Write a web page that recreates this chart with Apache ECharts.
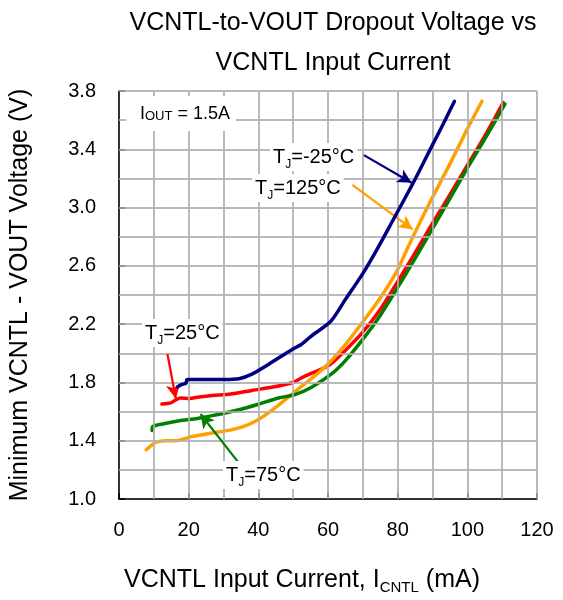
<!DOCTYPE html>
<html>
<head>
<meta charset="utf-8">
<script src="https://cdn.jsdelivr.net/npm/echarts@6/dist/echarts.min.js"></script>
<style>
html,body{margin:0;padding:0;background:#fff;}
#chart{width:563px;height:600px;}
</style>
</head>
<body>
<div id="chart"></div>
<script>
// ---- data ----
const xTicks = [0, 20, 40, 60, 80, 100, 120];
const yTicks = [1.0, 1.4, 1.8, 2.2, 2.6, 3.0, 3.4, 3.8];

// [VCNTL input current (mA), minimum VCNTL - VOUT voltage (V)]
const tjMinus25 = [[16.8,1.77],[18.0,1.785],[19.2,1.795],[19.6,1.82],[25,1.82],[30,1.82],[34.4,1.825],[38,1.855],[43,1.925],[49.6,2.025],[52.3,2.06],[55.3,2.12],[60.8,2.22],[65,2.37],[69.8,2.54],[74,2.71],[78.8,2.92],[83.8,3.14],[86.4,3.26],[90,3.43],[93,3.57],[96.3,3.73]];
const tj25 = [[12.3,1.652],[14.9,1.66],[16.3,1.68],[17.7,1.693],[20.1,1.69],[23,1.70],[26.8,1.71],[32,1.72],[38.2,1.745],[45.8,1.775],[50,1.80],[52.3,1.83],[55,1.86],[58.9,1.90],[61,1.93],[65,2.02],[69.8,2.14],[75,2.30],[79.7,2.48],[84,2.65],[89.2,2.86],[94,3.05],[100,3.29],[105,3.49],[110.3,3.72]];
const tj75 = [[9.5,1.47],[9.7,1.497],[12.5,1.515],[17.3,1.537],[22.5,1.553],[26.8,1.572],[35.3,1.618],[40,1.65],[45.8,1.693],[50.5,1.716],[55.3,1.767],[61,1.858],[65,1.95],[69.8,2.09],[75,2.26],[79.7,2.44],[84,2.61],[88.4,2.79],[94,3.02],[100,3.27],[105,3.47],[110.8,3.71]];
const tj125 = [[7.8,1.338],[9.2,1.366],[10.6,1.39],[13.5,1.40],[16.3,1.40],[21.1,1.43],[26.8,1.453],[32.5,1.476],[37.2,1.51],[41,1.56],[45.8,1.645],[51.5,1.755],[57.2,1.865],[61,1.95],[65,2.06],[69.8,2.21],[75,2.38],[79.7,2.56],[83,2.73],[86.4,2.90],[90,3.07],[95,3.30],[100,3.54],[104.2,3.73]];

const tempLabels = ['-25', '25', '75', '125'];

// annotation arrows: [from, to] in data coordinates
const arrowMinus25 = [[70.3,3.36],[84.0,3.17]];
const arrow125 = [[67.0,3.155],[84.3,2.85]];
const arrow25 = [[13.9,1.995],[16.3,1.69]];
const arrow75 = [[34.1,1.256],[23.4,1.583]];

// ---- chart ----
const FONT = '"Liberation Sans", Arial, Helvetica, sans-serif';
const GRIDC = '#b4b4b4';
const chart = echarts.init(document.getElementById('chart'));

// grid lines at every half tick step (10 mA / 0.2 V), placed through the axis scales
const xStep = (xTicks[1] - xTicks[0]) / 2;
const yStep = (yTicks[1] - yTicks[0]) / 2;
const gridMarks = [];
for (let i = 1; i <= (xTicks[xTicks.length - 1] - xTicks[0]) / xStep + 1e-9; i++) {
  gridMarks.push({xAxis: +(xTicks[0] + i * xStep).toFixed(3)});
}
for (let i = 1; i <= (yTicks[yTicks.length - 1] - yTicks[0]) / yStep + 1e-9; i++) {
  gridMarks.push({yAxis: +(yTicks[0] + i * yStep).toFixed(3)});
}

function arrowMark(pts, color) {
  return {
    silent: true,
    symbol: ['none', 'arrow'],
    symbolSize: [11, 14],
    label: {show: false},
    lineStyle: {color: color, width: 2.2, type: 'solid'},
    data: [[{coord: pts[0]}, {coord: pts[1]}]]
  };
}

function lineSeries(temp, data, color, arrow, z) {
  return {
    name: 'TJ=' + temp + '°C',
    type: 'line',
    data: data,
    showSymbol: false,
    smooth: 0.25,
    z: z,
    lineStyle: {color: color, width: 3.5, cap: 'round', join: 'round'},
    itemStyle: {color: color},
    markLine: arrowMark(arrow, color)
  };
}

function tjText(temp, x, y) {
  return {
    type: 'text',
    x: x, y: y, z: 100,
    style: {
      text: '{t|T}{s|J}{t|=' + temp + '°C}',
      verticalAlign: 'middle',
      align: 'left',
      backgroundColor: '#fff',
      padding: [0, 3, 0, 3],
      rich: {
        t: {fontSize: 20, fontFamily: FONT, fill: '#000', lineHeight: 28},
        s: {fontSize: 12, fontFamily: FONT, fill: '#000', lineHeight: 12, verticalAlign: 'bottom'}
      }
    }
  };
}

const option = {
  backgroundColor: '#fff',
  animation: false,
  title: {
    text: 'VCNTL-to-VOUT Dropout Voltage vs\nVCNTL Input Current',
    left: 328,
    top: -2,
    textAlign: 'center',
    textStyle: {fontFamily: FONT, fontSize: 25, fontWeight: 'normal', color: '#000', lineHeight: 40}
  },
  grid: {left: 116, right: 26, top: 91, bottom: 100},
  xAxis: {
    type: 'value',
    min: xTicks[0],
    max: xTicks[xTicks.length - 1],
    interval: 20,
    name: '{n|VCNTL Input Current, I}{s|CNTL}{n| (mA)}',
    nameLocation: 'middle',
    nameGap: 66,
    nameTextStyle: {
      padding: [0, 52, 0, 0],
      rich: {
        n: {fontFamily: FONT, fontSize: 25, color: '#000', lineHeight: 30},
        s: {fontFamily: FONT, fontSize: 15, color: '#000', lineHeight: 14, verticalAlign: 'bottom'}
      }
    },
    axisLine: {show: true, onZero: false, lineStyle: {color: '#000', width: 1.5}},
    axisTick: {show: true, inside: true, length: 6, lineStyle: {color: '#000', width: 1.5}},
    axisLabel: {margin: 21, fontFamily: FONT, fontSize: 20, color: '#000',
      formatter: v => String(v)},
    splitLine: {show: true, lineStyle: {color: GRIDC, width: 1.5}},
    minorTick: {show: false, splitNumber: 2},
    minorSplitLine: {show: true, lineStyle: {color: GRIDC, width: 1.5}}
  },
  yAxis: {
    type: 'value',
    min: yTicks[0],
    max: yTicks[yTicks.length - 1],
    interval: 0.4,
    name: 'Minimum VCNTL - VOUT Voltage (V)',
    nameLocation: 'middle',
    nameGap: 86,
    nameTextStyle: {fontFamily: FONT, fontSize: 25, color: '#000'},
    axisLine: {show: true, onZero: false, lineStyle: {color: '#000', width: 1.5}},
    axisTick: {show: true, inside: true, length: 6, lineStyle: {color: '#000', width: 1.5}},
    axisLabel: {margin: 23, fontFamily: FONT, fontSize: 20, color: '#000',
      formatter: v => v.toFixed(1)},
    splitLine: {show: true, lineStyle: {color: GRIDC, width: 1.5}},
    minorTick: {show: false, splitNumber: 2},
    minorSplitLine: {show: true, lineStyle: {color: GRIDC, width: 1.5}}
  },
  series: [
    {
      name: 'grid',
      type: 'line',
      data: [[xTicks[0], yTicks[0]]],
      showSymbol: false,
      silent: true,
      z: 1,
      lineStyle: {opacity: 0},
      markLine: {
        silent: true,
        symbol: ['none', 'none'],
        label: {show: false},
        lineStyle: {color: GRIDC, width: 1.5, type: 'solid'},
        data: gridMarks
      }
    },
    lineSeries(tempLabels[0], tjMinus25, '#000080', arrowMinus25, 5),
    lineSeries(tempLabels[1], tj25, '#ff0000', arrow25, 2),
    lineSeries(tempLabels[3], tj125, '#ffa000', arrow125, 3),
    lineSeries(tempLabels[2], tj75, '#008000', arrow75, 4)
  ],
  graphic: [
    {
      type: 'rect', z: 99,
      shape: {x: 126, y: 96, width: 110, height: 35},
      style: {fill: '#fff'}
    },
    {
      type: 'text', x: 140, y: 113, z: 100,
      style: {
        text: '{a|I}{b|OUT}{a| = 1.5A}',
        verticalAlign: 'middle',
        rich: {
          a: {fontSize: 18, fontFamily: FONT, fill: '#000', lineHeight: 20, verticalAlign: 'bottom'},
          b: {fontSize: 13, fontFamily: FONT, fill: '#000', lineHeight: 15, verticalAlign: 'bottom'}
        }
      }
    },
    tjText(tempLabels[0], 270, 157),
    tjText(tempLabels[3], 252, 188),
    tjText(tempLabels[1], 142, 333),
    tjText(tempLabels[2], 223, 475)
  ]
};
chart.setOption(option);
</script>
</body>
</html>
